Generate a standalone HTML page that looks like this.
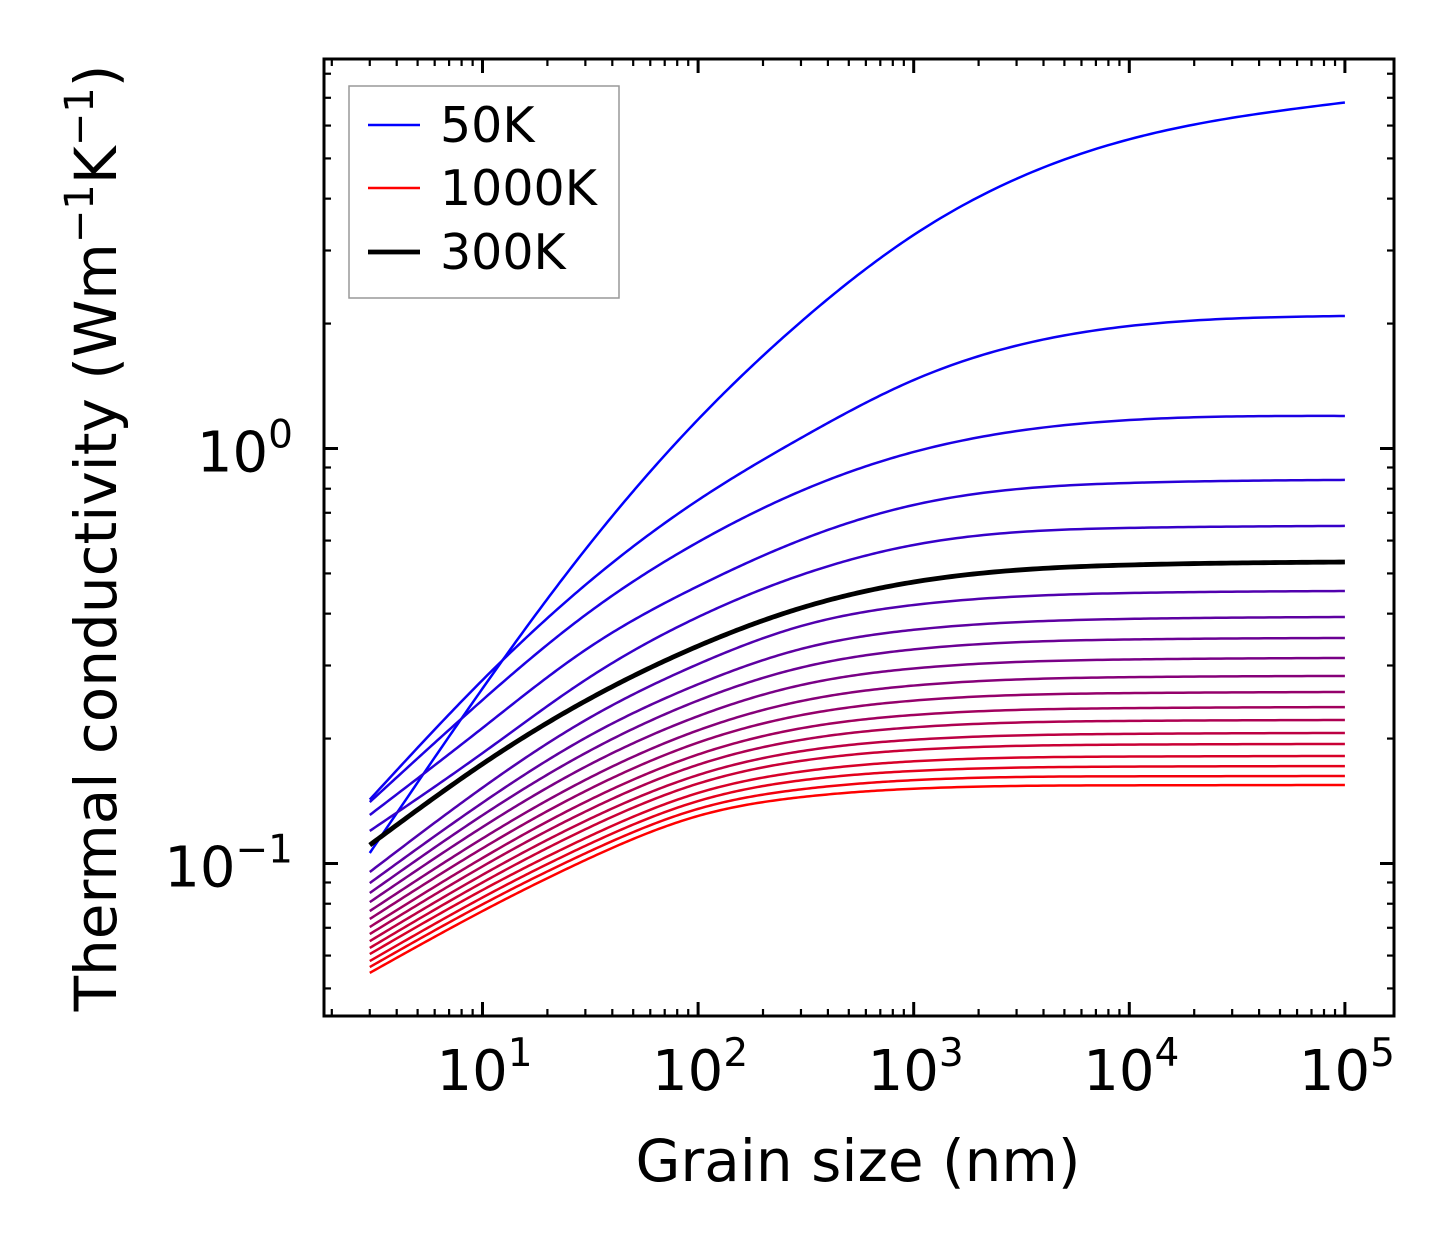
<!DOCTYPE html>
<html><head><meta charset="utf-8"><style>
html,body{margin:0;padding:0;background:#fff}
svg{display:block}
text{font-family:"DejaVu Sans","Liberation Sans",sans-serif;fill:#000}
</style></head><body>
<svg id="chart" width="1454" height="1254" viewBox="0 0 1454 1254" xmlns="http://www.w3.org/2000/svg">
<rect x="0" y="0" width="1454" height="1254" fill="#fff"/>
<g id="curves"></g>
<g id="ticks"></g>
<rect x="324" y="59" width="1070" height="957" fill="none" stroke="#000" stroke-width="3"/>
<g id="xlabels"></g>
<g id="ylabels"></g>
<text x="858" y="1181" font-size="58" text-anchor="middle">Grain size (nm)</text>
<text transform="translate(116,538) rotate(-90)" font-size="58" text-anchor="middle">Thermal conductivity (Wm<tspan dy="-23" font-size="40">−1</tspan><tspan dy="23">K</tspan><tspan dy="-23" font-size="40">−1</tspan><tspan dy="23">)</tspan></text>
<g>
<rect x="349" y="86" width="270" height="212" fill="#fff" stroke="#999" stroke-width="1.5"/>
<g><line x1="368" y1="125" x2="420" y2="125" stroke="#0000ff" stroke-width="2.5"/><text x="440" y="142" font-size="49">50K</text></g>
<g><line x1="368" y1="188" x2="420" y2="188" stroke="#ff0000" stroke-width="2.5"/><text x="440" y="205" font-size="49">1000K</text></g>
<g><line x1="368" y1="252" x2="420" y2="252" stroke="#000" stroke-width="4.8"/><text x="440" y="269" font-size="49">300K</text></g>
</g>
</svg>
<script>
// grain sizes (nm) at which values were read
const grainSizes = [3, 10, 30, 100, 300, 1000, 10000, 100000];
const temperatures = [50,100,150,200,250,300,350,400,450,500,550,600,650,700,750,800,850,900,950,1000];
const k50   = [0.106, 0.264, 0.571, 1.175, 2.02, 3.27, 5.56, 6.82];
const k100  = [0.1426, 0.2767, 0.469, 0.751, 1.060, 1.462, 1.973, 2.086];
const k150  = [0.1406, 0.2477, 0.397, 0.595, 0.790, 0.981, 1.171, 1.198];
const k200  = [0.1309, 0.2121, 0.327, 0.466, 0.602, 0.731, 0.826, 0.840];
const k250  = [0.1198, 0.1845, 0.2768, 0.3926, 0.4956, 0.5855, 0.6436, 0.6508];
const k300  = [0.1108, 0.1737, 0.2463, 0.3342, 0.4127, 0.4768, 0.5240, 0.5327];
const k350  = [0.0954, 0.1523, 0.2214, 0.3023, 0.3733, 0.4197, 0.4485, 0.4535];
const k400  = [0.0897, 0.1401, 0.2007, 0.2703, 0.3288, 0.3657, 0.3885, 0.3926];
const k450  = [0.0849, 0.1307, 0.1845, 0.2470, 0.2965, 0.3280, 0.3466, 0.3495];
const k500  = [0.0807, 0.1224, 0.1710, 0.2265, 0.2691, 0.2951, 0.3102, 0.3128];
const k550  = [0.0768, 0.1149, 0.1590, 0.2094, 0.2462, 0.2684, 0.2812, 0.2831];
const k600  = [0.0735, 0.1088, 0.1494, 0.1956, 0.2277, 0.2469, 0.2574, 0.2590];
const k650  = [0.0703, 0.1031, 0.1407, 0.1831, 0.2117, 0.2280, 0.2368, 0.2382];
const k700  = [0.0676, 0.0984, 0.1334, 0.1730, 0.1985, 0.2129, 0.2206, 0.2217];
const k750  = [0.0650, 0.0939, 0.1266, 0.1634, 0.1864, 0.1987, 0.2053, 0.2063];
const k800  = [0.0626, 0.0900, 0.1209, 0.1558, 0.1767, 0.1878, 0.1934, 0.1941];
const k850  = [0.0605, 0.0863, 0.1151, 0.1479, 0.1665, 0.1763, 0.1810, 0.1816];
const k900  = [0.0582, 0.0828, 0.1103, 0.1414, 0.1586, 0.1671, 0.1712, 0.1717];
const k950  = [0.0563, 0.0797, 0.1058, 0.1354, 0.1509, 0.1588, 0.1622, 0.1625];
const k1000 = [0.0545, 0.0768, 0.1019, 0.1302, 0.1445, 0.1514, 0.1543, 0.1546];
const series = [k50,k100,k150,k200,k250,k300,k350,k400,k450,k500,k550,k600,k650,k700,k750,k800,k850,k900,k950,k1000];
const xTickExps = [1, 2, 3, 4, 5];
const yTickExps = [0, -1];

const NS = "http://www.w3.org/2000/svg";
const X0 = 482.5, XD = 215.6, Y0 = 448.5, YD = 415;
const PL = 324, PR = 1394, PT = 59, PB = 1016;
function xs(g){ return X0 + (Math.log10(g) - 1) * XD; }
function ys(k){ return Y0 - Math.log10(k) * YD; }
function mk(tag, attrs, parent){ const e=document.createElementNS(NS,tag); for(const a in attrs) e.setAttribute(a,attrs[a]); parent.appendChild(e); return e; }

// natural cubic spline through pixel points
function splinePath(px, py){
  const n=px.length, h=[], al=[0], l=[1], mu=[0], z=[0], c=new Array(n).fill(0), b=[], d=[];
  for(let i=0;i<n-1;i++) h.push(px[i+1]-px[i]);
  for(let i=1;i<n-1;i++) al.push(3/h[i]*(py[i+1]-py[i]) - 3/h[i-1]*(py[i]-py[i-1]));
  for(let i=1;i<n-1;i++){ l[i]=2*(px[i+1]-px[i-1])-h[i-1]*mu[i-1]; mu[i]=h[i]/l[i]; z[i]=(al[i]-h[i-1]*z[i-1])/l[i]; }
  z[n-1]=0;
  for(let j=n-2;j>=0;j--){ c[j]=z[j]-mu[j]*c[j+1]; b[j]=(py[j+1]-py[j])/h[j]-h[j]*(c[j+1]+2*c[j])/3; d[j]=(c[j+1]-c[j])/(3*h[j]); }
  let p="";
  for(let j=0;j<n-1;j++){
    const steps=40;
    for(let s=(j===0?0:1);s<=steps;s++){
      const dx=h[j]*s/steps;
      const y=py[j]+b[j]*dx+c[j]*dx*dx+d[j]*dx*dx*dx;
      p+=(p?" L":"M")+(px[j]+dx).toFixed(2)+","+y.toFixed(2);
    }
  }
  return p;
}

const cg = document.getElementById("curves");
const order = [];
for(let i=0;i<series.length;i++) if(temperatures[i]!==300) order.push(i);
order.push(temperatures.indexOf(300));
order.forEach(i=>{
  const t = i/(series.length-1);
  const col = temperatures[i]===300 ? "#000" : "rgb("+Math.round(255*t)+",0,"+Math.round(255*(1-t))+")";
  const px = grainSizes.map(xs), py = series[i].map(ys);
  const el = mk("path",{d:splinePath(px,py),fill:"none",stroke:col,"stroke-width":temperatures[i]===300?4.8:2.5,"stroke-linejoin":"round"},cg);
  
  
});

// ticks
const tg = document.getElementById("ticks");
function tick(x1,y1,x2,y2,w){ const l=mk("line",{x1:x1,y1:y1,x2:x2,y2:y2,stroke:"#000","stroke-width":w},tg);
  
   }
for(let e=0;e<=5;e++){
  for(let m=1;m<=9;m++){
    const x = xs(m*Math.pow(10,e));
    if(x<PL+2||x>PR-2) continue;
    const L = m===1?14:7, w = m===1?3:2.2;
    tick(x,PB,x,PB-L,w); tick(x,PT,x,PT+L,w);
  }
}
for(let e=-2;e<=0;e++){
  for(let m=1;m<=9;m++){
    const y = ys(m*Math.pow(10,e));
    if(y<PT+2||y>PB-2) continue;
    const L = m===1?14:7, w = m===1?3:2.2;
    tick(PL,y,PL+L,y,w); tick(PR,y,PR-L,y,w);
  }
}
const xl = document.getElementById("xlabels");
xTickExps.forEach(e=>{
  const t = mk("text",{x:xs(Math.pow(10,e))+2,y:1090,"font-size":56,"text-anchor":"middle"},xl);
  
  
  t.innerHTML = '10<tspan dy="-24" font-size="39">'+e+'</tspan>';
});
const yl = document.getElementById("ylabels");
yTickExps.forEach(e=>{
  const t = mk("text",{x:293,y:ys(Math.pow(10,e))+23,"font-size":56,"text-anchor":"end"},yl);
  
  
  t.innerHTML = '10<tspan dy="-24" font-size="39">'+(e<0?'−'+(-e):e)+'</tspan>';
});
</script>
</body></html>
